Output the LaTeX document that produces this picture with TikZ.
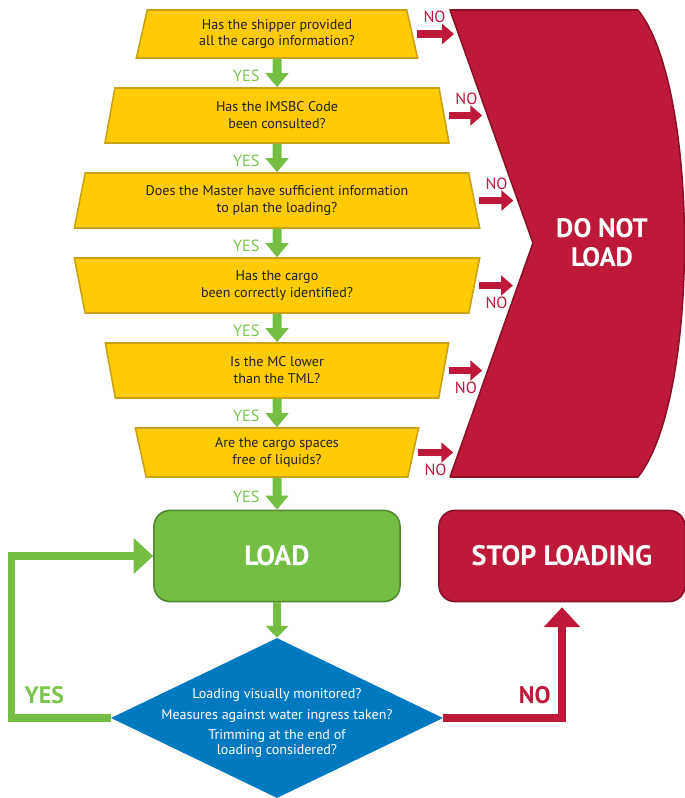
\documentclass[tikz,border=0pt]{standalone}
\usepackage{fontspec}
\setmainfont{PT Sans}
\usetikzlibrary{arrows.meta,shapes.geometric}

\begin{document}
\begin{tikzpicture}[x=0.025cm, y=-0.025cm]

\definecolor{cargoyellow}{RGB}{255, 203, 5}
\definecolor{cargoedge}{RGB}{201, 162, 20}
\definecolor{stopred}{RGB}{190, 25, 58}
\definecolor{stopedge}{RGB}{140, 15, 40}
\definecolor{goleaf}{RGB}{116, 190, 68}
\definecolor{yeslabel}{RGB}{125, 195, 80}
\definecolor{checkblue}{RGB}{0, 121, 193}
\definecolor{ink}{RGB}{35, 31, 32}

% Canvas
\useasboundingbox (0,0) rectangle (685,798);

\tikzset{
    question/.style={
        draw=cargoedge, line width=1.1pt, fill=cargoyellow,
        trapezium, trapezium stretches body=true,
        trapezium left angle=#1, trapezium right angle=#1,
        inner sep=1pt, text=ink, align=center,
        font=\fontsize{10}{12}\selectfont
    },
    yes step/.style={
        draw=goleaf, line width=6.4pt, -{Triangle[width=16pt, length=10pt]}
    },
    no step/.style={
        draw=stopred, line width=5pt, -{Triangle[width=14pt, length=8.5pt]}
    },
    yes tag/.style={text=yeslabel, font=\fontsize{11.5}{12}\selectfont},
    no tag/.style={text=stopred, inner xsep=0pt, font=\fontsize{11.5}{12}\selectfont},
    big label/.style={text=white, align=center, font=\fontsize{19}{20.5}\selectfont\bfseries},
    big tag/.style={text=#1, font=\fontsize{17}{17}\selectfont\bfseries},
    action box/.style={
        draw=#1!70!black, line width=1.1pt, fill=#1,
        rectangle, rounded corners=0.4cm,
        minimum width=6.15cm, minimum height=2.28cm,
        big label, font=\fontsize{20}{20}\selectfont\bfseries
    },
    loop arrow/.style={
        draw=#1, line width=5pt, -{Triangle[width=25pt, length=14pt]}
    }
}

% --- CARGO CHECKS ---
\node[question=71.57, minimum width=7.03cm, minimum height=1.2cm] (info) at (277,34) {Has the shipper provided\\all the cargo information?};
\node[question=71.57, minimum width=8.6cm, minimum height=1.375cm] (code) at (277,115.5) {Has the IMSBC Code\\been consulted?};
\node[question=71.57, minimum width=10.13cm, minimum height=1.375cm] (master) at (277,200.5) {Does the Master have sufficient information\\to plan the loading?};
\node[question=108.43, minimum width=10.13cm, minimum height=1.375cm] (ident) at (277,285.5) {Has the cargo\\been correctly identified?};
\node[question=108.43, minimum width=8.58cm, minimum height=1.375cm] (mc) at (277,370.5) {Is the MC lower\\than the TML?};
\node[question=108.43, minimum width=7.08cm, minimum height=1.225cm] (liquid) at (277,452.5) {Are the cargo spaces\\free of liquids?};

% --- DO NOT LOAD ---
\draw[draw=stopedge, fill=stopred, line width=1.1pt, line join=round]
    (450,10) -- coordinate[pos=0.1] (e1) coordinate[pos=0.44] (e2) coordinate[pos=0.815] (e3) (533,243)
    -- coordinate[pos=0.19] (e4) coordinate[pos=0.56] (e5) coordinate[pos=0.91] (e6) (450,477)
    -- (638,477) .. controls (700,400) and (700,87) .. (638,10) -- cycle;
\node[big label] (dnl) at (602,243) {DO NOT\\LOAD};

% --- LOAD / STOP ---
\node[action box=goleaf] (load) at (277,556) {LOAD};
\node[action box=stopred] (stop) at (562,556) {STOP LOADING};

% Monitoring check
\node[diamond, fill=checkblue, minimum width=8.3cm, minimum height=4cm, inner sep=0pt] (check) at (277,718) {};
\node[text=white, align=center, font=\fontsize{10}{10.5}\selectfont] (checktext) at (277,723)
    {Loading visually monitored?\\[4pt]Measures against water ingress taken?\\[4pt]Trimming at the end of\\loading considered?};

% YES chain
\foreach \from/\to in {info/code, code/master, master/ident, ident/mc, mc/liquid, liquid/load}
    \draw[yes step] (\from) -- (\to) node[yes tag, pos=0.6, left=6pt] {YES};

% NO exits
\foreach \q/\e/\side in {info/e1/above right, code/e2/above right, master/e3/above right,
                         ident/e4/below right, mc/e5/below right, liquid/e6/below right}
    \draw[no step] ([xshift=3pt]\q.east) -- ([xshift=-3pt]\q.east -| \e)
        node[no tag, at start, \side=2pt] {NO};

\draw[draw=goleaf, line width=5pt, -{Triangle[width=16pt, length=8.5pt]}] (load) -- (check);

% Loops back
\draw[loop arrow=goleaf] (check.west) -- node[big tag=yeslabel, pos=0.67, above=4pt] {YES} ++(-99,0) |- (load.west);
\draw[loop arrow=stopred, shorten >=3.5pt] (check.east) -| node[big tag=stopred, pos=0.385, above=4pt] {NO} (stop.south);

\end{tikzpicture}
\end{document}
